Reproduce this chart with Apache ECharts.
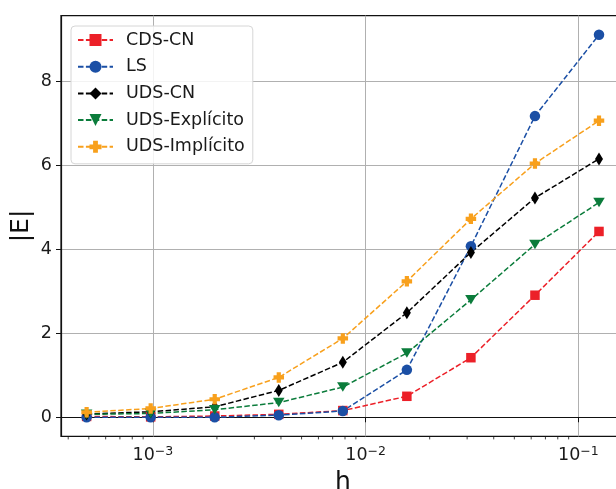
<!DOCTYPE html>
<html>
<head>
<meta charset="utf-8">
<script src="https://cdn.jsdelivr.net/npm/echarts@6/dist/echarts.min.js"></script>
<style>
  html, body { margin: 0; padding: 0; background: #fff; overflow: hidden; }
  #chart { width: 616px; height: 489px; }
</style>
</head>
<body>
<div id="chart"></div>
<script>
// Mesh spacing h (2^-11 ... 2^-3)
const hValues = [0.00048828125, 0.0009765625, 0.001953125, 0.00390625, 0.0078125,
                 0.015625, 0.03125, 0.0625, 0.125];

// Error magnitude |E| for each scheme
const cdsCN        = [0.02, 0.01, 0.03, 0.07, 0.16, 0.50, 1.42, 2.91, 4.43];
const ls           = [0.00, 0.00, 0.00, 0.05, 0.15, 1.13, 4.08, 7.18, 9.12];
const udsCN        = [0.08, 0.13, 0.25, 0.64, 1.31, 2.49, 3.93, 5.23, 6.16];
const udsExplicito = [0.07, 0.09, 0.18, 0.35, 0.72, 1.53, 2.80, 4.12, 5.12];
const udsImplicito = [0.12, 0.21, 0.43, 0.95, 1.88, 3.24, 4.73, 6.05, 7.07];

const seriesNames = ['CDS-CN', 'LS', 'UDS-CN', 'UDS-Explícito', 'UDS-Implícito'];

// Minor tick positions on the logarithmic h axis
const minorTicks = [0.0004, 0.0005, 0.0006, 0.0007, 0.0008, 0.0009,
                    0.002, 0.003, 0.004, 0.005, 0.006, 0.007, 0.008, 0.009,
                    0.02, 0.03, 0.04, 0.05, 0.06, 0.07, 0.08, 0.09];

const FONT = 'DejaVu Sans';
const PLUS = 'path://M3,0H7V3H10V7H7V10H3V7H0V3H3Z';
const DASH = [5.5, 2.4];
const Y_MIN = -0.456, Y_MAX = 9.576;

function pairs(ys) { return hValues.map((h, i) => [h, ys[i]]); }

function lineSeries(name, ys, color, symbol, size, rotate) {
  return {
    name: name, type: 'line', data: pairs(ys),
    symbol: symbol, symbolSize: size, symbolRotate: rotate || 0,
    showAllSymbol: true,
    lineStyle: { color: color, width: 1.5, type: DASH },
    itemStyle: { color: color, borderWidth: 0 },
    emphasis: { disabled: true },
    animation: false, z: 3
  };
}

const chart = echarts.init(document.getElementById('chart'), null, { renderer: 'canvas' });

chart.setOption({
  animation: false,
  backgroundColor: '#fff',
  textStyle: { fontFamily: FONT },
  grid: {
    left: 61, top: 15.6, width: 563.6, height: 420.8,
    outerBoundsMode: 'none', containLabel: false,
    show: true, borderColor: '#111', borderWidth: 1.2, backgroundColor: 'transparent'
  },
  legend: {
    data: seriesNames,
    orient: 'vertical', left: 71, top: 26,
    itemWidth: 35, itemHeight: 15, itemGap: 8.7,
    padding: [5, 8, 8, 6],
    backgroundColor: 'rgba(255,255,255,0.85)',
    borderColor: '#d6d6d6', borderWidth: 1, borderRadius: 4,
    textStyle: { fontFamily: FONT, fontSize: 17.5, color: '#1a1a1a', padding: [0, 0, 0, 8], lineHeight: 17.5 },
    selectedMode: false
  },
  xAxis: {
    type: 'log', logBase: 10,
    min: 3.70e-4, max: 0.1649,
    name: 'h', nameLocation: 'middle', nameGap: 34, nameMoveOverlap: false,
    nameTextStyle: { fontFamily: FONT, fontSize: 25, color: '#111' },
    axisLine: { show: true, lineStyle: { color: '#111', width: 1.2 } },
    axisTick: { show: true, inside: false, length: 5, lineStyle: { color: '#111', width: 1 } },
    axisLabel: {
      showMinLabel: false, showMaxLabel: false, margin: 9,
      formatter: function (v) {
        const e = Math.round(Math.log10(v));
        return '{b|10}{s|\u2212' + Math.abs(e) + '}';
      },
      rich: {
        b: { fontFamily: FONT, fontSize: 17.5, color: '#1a1a1a', lineHeight: 20 },
        s: { fontFamily: FONT, fontSize: 12.5, color: '#1a1a1a', verticalAlign: 'top', lineHeight: 12 }
      }
    },
    splitLine: { show: true, lineStyle: { color: '#b0b0b0', width: 1 } },
    minorTick: { show: false }
  },
  yAxis: {
    type: 'value',
    min: Y_MIN, max: Y_MAX, splitNumber: 5,
    name: '|E|', nameLocation: 'middle', nameGap: 27, nameRotate: 90, nameMoveOverlap: false,
    nameTextStyle: { fontFamily: FONT, fontSize: 25, color: '#111' },
    axisLine: { show: true, lineStyle: { color: '#111', width: 1.2 } },
    axisTick: { show: true, length: 5, lineStyle: { color: '#111', width: 1 }, customValues: [0, 2, 4, 6, 8] },
    axisLabel: { fontFamily: FONT, fontSize: 17.5, color: '#1a1a1a', margin: 9,
                 customValues: [0, 2, 4, 6, 8] },
    splitLine: { show: true, lineStyle: { color: '#b0b0b0', width: 1 } }
  },
  series: [
    lineSeries('CDS-CN', cdsCN, '#ec2028', 'rect', 9.5),
    lineSeries('LS', ls, '#1b4fa5', 'circle', 10.5),
    lineSeries('UDS-CN', udsCN, '#000000', 'diamond', [8, 13]),
    lineSeries('UDS-Explícito', udsExplicito, '#0b7c3b', 'triangle', [11.5, 9.5], 180),
    lineSeries('UDS-Implícito', udsImplicito, '#f8a01c', PLUS, 10.5),
    {
      // minor ticks below the h axis
      type: 'custom', name: 'minor', silent: true, clip: false, z: 1,
      data: minorTicks.map(v => [v, Y_MIN]),
      renderItem: function (params, api) {
        const p = api.coord([api.value(0), api.value(1)]);
        return {
          type: 'line',
          shape: { x1: p[0], y1: p[1], x2: p[0], y2: p[1] + 3 },
          style: { stroke: '#111', lineWidth: 0.8 }
        };
      }
    }
  ]
});
</script>
</body>
</html>
